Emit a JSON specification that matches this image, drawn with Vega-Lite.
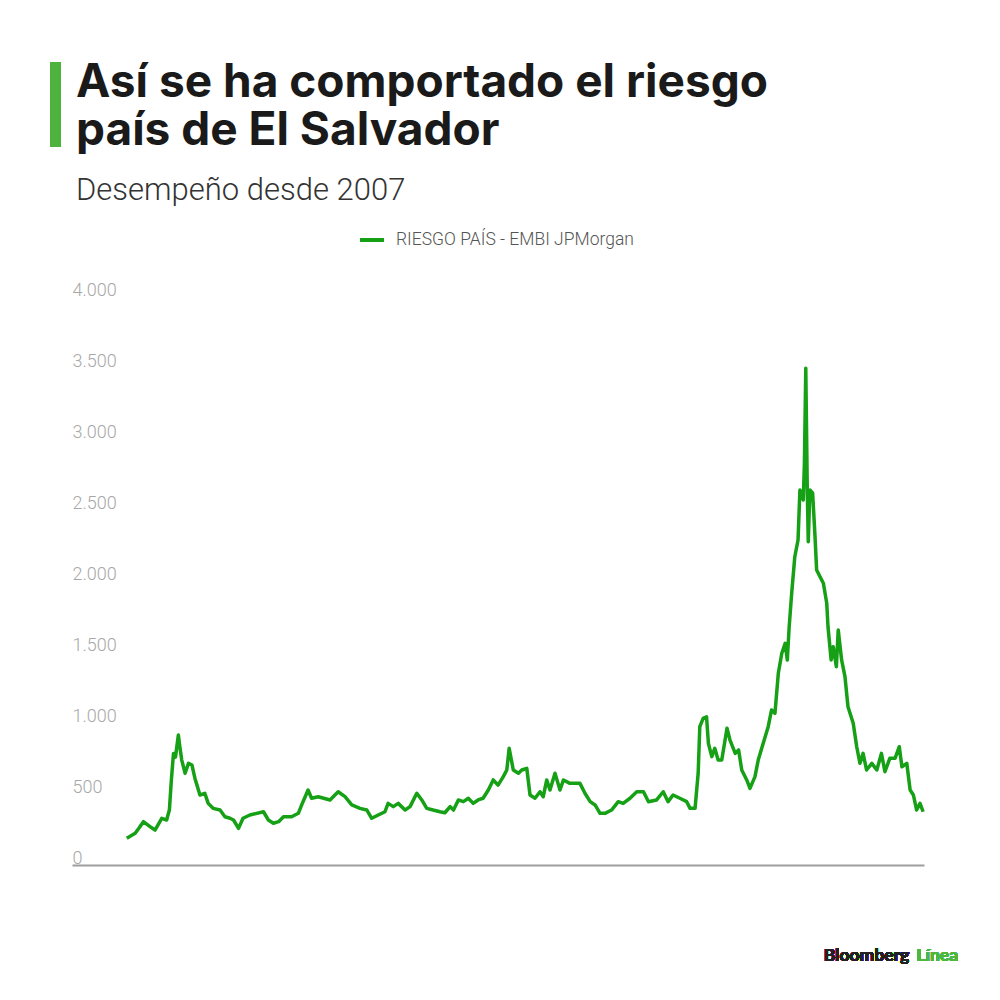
{
  "$schema": "https://vega.github.io/schema/vega-lite/v6.json",
  "autosize": {"type": "none"},
  "width": 852,
  "height": 568,
  "padding": {"left": 72, "top": 297, "right": 76, "bottom": 135},
  "background": "white",
  "config": {
    "view": {"stroke": null},
    "locale": {"number": {"decimal": ",", "thousands": ".", "grouping": [3], "currency": ["", "$"]}}
  },
  "title": {
    "text": ["Así se ha comportado el riesgo", "país de El Salvador"],
    "subtitle": "Desempeño desde 2007",
    "anchor": "start",
    "frame": "group",
    "dx": 4,
    "font": "Inter",
    "fontSize": 46,
    "fontWeight": 700,
    "lineHeight": 48,
    "color": "#1a1a1a",
    "subtitleFont": "Roboto",
    "subtitleFontSize": 31,
    "subtitleFontWeight": 300,
    "subtitleColor": "#333333",
    "subtitlePadding": 21,
    "offset": -150
  },
  "data": {
    "values": [
      {"fecha": "2007-09-03", "embi": 188},
      {"fecha": "2007-11-09", "embi": 223},
      {"fecha": "2007-12-10", "embi": 260},
      {"fecha": "2008-01-14", "embi": 305},
      {"fecha": "2008-03-07", "embi": 270},
      {"fecha": "2008-04-16", "embi": 246},
      {"fecha": "2008-06-09", "embi": 329},
      {"fecha": "2008-07-18", "embi": 317},
      {"fecha": "2008-08-09", "embi": 387},
      {"fecha": "2008-08-25", "embi": 600},
      {"fecha": "2008-09-11", "embi": 786},
      {"fecha": "2008-09-27", "embi": 760},
      {"fecha": "2008-10-20", "embi": 915},
      {"fecha": "2008-10-29", "embi": 850},
      {"fecha": "2008-11-16", "embi": 739},
      {"fecha": "2008-12-13", "embi": 646},
      {"fecha": "2009-01-09", "embi": 716},
      {"fecha": "2009-02-06", "embi": 704},
      {"fecha": "2009-03-02", "embi": 610},
      {"fecha": "2009-04-11", "embi": 493},
      {"fecha": "2009-05-20", "embi": 505},
      {"fecha": "2009-06-16", "embi": 434},
      {"fecha": "2009-07-25", "embi": 399},
      {"fecha": "2009-09-19", "embi": 387},
      {"fecha": "2009-10-28", "embi": 340},
      {"fecha": "2009-12-08", "embi": 329},
      {"fecha": "2010-01-05", "embi": 317},
      {"fecha": "2010-02-14", "embi": 258},
      {"fecha": "2010-03-22", "embi": 329},
      {"fecha": "2010-05-16", "embi": 352},
      {"fecha": "2010-09-02", "embi": 375},
      {"fecha": "2010-10-11", "embi": 317},
      {"fecha": "2010-11-20", "embi": 294},
      {"fecha": "2011-01-01", "embi": 305},
      {"fecha": "2011-02-09", "embi": 340},
      {"fecha": "2011-04-15", "embi": 340},
      {"fecha": "2011-06-08", "embi": 364},
      {"fecha": "2011-07-05", "embi": 423},
      {"fecha": "2011-08-25", "embi": 528},
      {"fecha": "2011-09-22", "embi": 470},
      {"fecha": "2011-11-15", "embi": 481},
      {"fecha": "2012-02-17", "embi": 458},
      {"fecha": "2012-04-22", "embi": 516},
      {"fecha": "2012-06-16", "embi": 481},
      {"fecha": "2012-08-09", "embi": 423},
      {"fecha": "2012-10-14", "embi": 399},
      {"fecha": "2012-12-08", "embi": 387},
      {"fecha": "2013-01-16", "embi": 329},
      {"fecha": "2013-03-09", "embi": 352},
      {"fecha": "2013-05-02", "embi": 375},
      {"fecha": "2013-05-27", "embi": 434},
      {"fecha": "2013-07-08", "embi": 411},
      {"fecha": "2013-08-16", "embi": 434},
      {"fecha": "2013-10-10", "embi": 387},
      {"fecha": "2013-11-19", "embi": 411},
      {"fecha": "2014-01-12", "embi": 505},
      {"fecha": "2014-02-21", "embi": 458},
      {"fecha": "2014-04-02", "embi": 399},
      {"fecha": "2014-05-22", "embi": 387},
      {"fecha": "2014-07-16", "embi": 375},
      {"fecha": "2014-08-25", "embi": 368},
      {"fecha": "2014-10-06", "embi": 411},
      {"fecha": "2014-11-02", "embi": 387},
      {"fecha": "2014-12-11", "embi": 458},
      {"fecha": "2015-01-20", "embi": 446},
      {"fecha": "2015-03-01", "embi": 470},
      {"fecha": "2015-04-09", "embi": 434},
      {"fecha": "2015-05-18", "embi": 458},
      {"fecha": "2015-06-27", "embi": 470},
      {"fecha": "2015-08-08", "embi": 528},
      {"fecha": "2015-09-16", "embi": 599},
      {"fecha": "2015-10-25", "embi": 563},
      {"fecha": "2015-12-06", "embi": 622},
      {"fecha": "2016-01-03", "embi": 669},
      {"fecha": "2016-01-22", "embi": 822},
      {"fecha": "2016-02-24", "embi": 669},
      {"fecha": "2016-04-05", "embi": 646},
      {"fecha": "2016-05-02", "embi": 669},
      {"fecha": "2016-06-11", "embi": 681},
      {"fecha": "2016-07-07", "embi": 493},
      {"fecha": "2016-08-16", "embi": 470},
      {"fecha": "2016-09-25", "embi": 516},
      {"fecha": "2016-10-21", "embi": 481},
      {"fecha": "2016-11-18", "embi": 599},
      {"fecha": "2016-12-14", "embi": 528},
      {"fecha": "2017-01-23", "embi": 646},
      {"fecha": "2017-03-04", "embi": 528},
      {"fecha": "2017-04-01", "embi": 599},
      {"fecha": "2017-05-22", "embi": 575},
      {"fecha": "2017-08-11", "embi": 575},
      {"fecha": "2017-09-20", "embi": 505},
      {"fecha": "2017-11-01", "embi": 446},
      {"fecha": "2017-12-10", "embi": 423},
      {"fecha": "2018-01-19", "embi": 364},
      {"fecha": "2018-02-28", "embi": 364},
      {"fecha": "2018-04-21", "embi": 387},
      {"fecha": "2018-06-14", "embi": 446},
      {"fecha": "2018-07-23", "embi": 434},
      {"fecha": "2018-09-16", "embi": 470},
      {"fecha": "2018-11-09", "embi": 516},
      {"fecha": "2019-01-02", "embi": 516},
      {"fecha": "2019-02-11", "embi": 446},
      {"fecha": "2019-04-17", "embi": 458},
      {"fecha": "2019-06-09", "embi": 516},
      {"fecha": "2019-07-18", "embi": 446},
      {"fecha": "2019-08-27", "embi": 493},
      {"fecha": "2019-10-20", "embi": 470},
      {"fecha": "2019-12-14", "embi": 446},
      {"fecha": "2020-01-10", "embi": 399},
      {"fecha": "2020-02-19", "embi": 399},
      {"fecha": "2020-03-15", "embi": 646},
      {"fecha": "2020-03-28", "embi": 974},
      {"fecha": "2020-04-24", "embi": 1033},
      {"fecha": "2020-05-21", "embi": 1044},
      {"fecha": "2020-06-05", "embi": 857},
      {"fecha": "2020-07-02", "embi": 763},
      {"fecha": "2020-07-26", "embi": 822},
      {"fecha": "2020-08-22", "embi": 739},
      {"fecha": "2020-09-20", "embi": 739},
      {"fecha": "2020-11-01", "embi": 963},
      {"fecha": "2020-11-25", "embi": 880},
      {"fecha": "2021-01-06", "embi": 786},
      {"fecha": "2021-02-02", "embi": 810},
      {"fecha": "2021-02-27", "embi": 669},
      {"fecha": "2021-04-08", "embi": 599},
      {"fecha": "2021-05-04", "embi": 540},
      {"fecha": "2021-06-13", "embi": 622},
      {"fecha": "2021-07-09", "embi": 739},
      {"fecha": "2021-08-18", "embi": 857},
      {"fecha": "2021-09-27", "embi": 974},
      {"fecha": "2021-10-24", "embi": 1092},
      {"fecha": "2021-11-20", "embi": 1068},
      {"fecha": "2021-12-17", "embi": 1350},
      {"fecha": "2022-01-14", "embi": 1491},
      {"fecha": "2022-02-10", "embi": 1561},
      {"fecha": "2022-02-27", "embi": 1444},
      {"fecha": "2022-03-14", "embi": 1678},
      {"fecha": "2022-04-03", "embi": 1913},
      {"fecha": "2022-04-28", "embi": 2171},
      {"fecha": "2022-05-24", "embi": 2289},
      {"fecha": "2022-06-08", "embi": 2641},
      {"fecha": "2022-07-05", "embi": 2570},
      {"fecha": "2022-07-14", "embi": 2829},
      {"fecha": "2022-07-25", "embi": 3498},
      {"fecha": "2022-08-06", "embi": 2641},
      {"fecha": "2022-08-14", "embi": 2277},
      {"fecha": "2022-08-27", "embi": 2641},
      {"fecha": "2022-09-18", "embi": 2618},
      {"fecha": "2022-10-07", "embi": 2312},
      {"fecha": "2022-10-20", "embi": 2077},
      {"fecha": "2022-11-16", "embi": 2030},
      {"fecha": "2022-12-13", "embi": 1984},
      {"fecha": "2023-01-09", "embi": 1843},
      {"fecha": "2023-01-19", "embi": 1678},
      {"fecha": "2023-02-13", "embi": 1444},
      {"fecha": "2023-03-02", "embi": 1537},
      {"fecha": "2023-03-27", "embi": 1396},
      {"fecha": "2023-04-11", "embi": 1655},
      {"fecha": "2023-05-08", "embi": 1444},
      {"fecha": "2023-06-04", "embi": 1326},
      {"fecha": "2023-06-28", "embi": 1115},
      {"fecha": "2023-08-09", "embi": 998},
      {"fecha": "2023-09-06", "embi": 833},
      {"fecha": "2023-10-02", "embi": 716},
      {"fecha": "2023-10-27", "embi": 786},
      {"fecha": "2023-11-24", "embi": 669},
      {"fecha": "2024-01-05", "embi": 716},
      {"fecha": "2024-02-14", "embi": 669},
      {"fecha": "2024-03-22", "embi": 786},
      {"fecha": "2024-04-19", "embi": 657},
      {"fecha": "2024-05-28", "embi": 751},
      {"fecha": "2024-07-09", "embi": 751},
      {"fecha": "2024-08-12", "embi": 833},
      {"fecha": "2024-09-02", "embi": 692},
      {"fecha": "2024-10-11", "embi": 716},
      {"fecha": "2024-11-07", "embi": 528},
      {"fecha": "2024-12-03", "embi": 493},
      {"fecha": "2024-12-29", "embi": 387},
      {"fecha": "2025-01-25", "embi": 434},
      {"fecha": "2025-02-19", "embi": 375}
    ]
  },
  "layer": [
    {
      "mark": {"type": "line", "strokeWidth": 3.5, "strokeJoin": "round", "clip": false},
      "encoding": {
        "x": {
          "field": "fecha", "type": "temporal",
          "scale": {"domain": ["2006-06-21", "2025-02-26"]},
          "axis": {"orient": "bottom", "labels": false, "ticks": false, "grid": false, "domain": true, "domainColor": "#9e9e9e", "domainWidth": 2, "title": null}
        },
        "y": {
          "field": "embi", "type": "quantitative",
          "scale": {"domain": [0, 4000], "nice": false},
          "axis": {
            "orient": "left", "domain": false, "ticks": false, "grid": false,
            "values": [0, 500, 1000, 1500, 2000, 2500, 3000, 3500, 4000],
            "format": ",d", "labelAlign": "left", "labelPadding": 0,
            "labelBaseline": "alphabetic", "labelOffset": -2,
            "labelColor": "#a8a8a8", "labelFont": "Roboto", "labelFontSize": 18, "labelFontWeight": 300,
            "title": null
          }
        },
        "color": {
          "datum": "RIESGO PAÍS - EMBI JPMorgan", "type": "nominal",
          "scale": {"range": ["#15a015"]},
          "legend": {
            "title": null, "orient": "none", "legendX": 286, "legendY": -71,
            "direction": "horizontal", "symbolType": "stroke", "symbolStrokeWidth": 4,
            "symbolSize": 576, "labelFont": "Roboto", "labelFontSize": 17.5, "labelFontWeight": 300,
            "labelColor": "#555555", "labelLimit": 400,
            "labelOffset": 10, "padding": 0
          }
        }
      }
    },
    {
      "mark": {"type": "rule", "strokeWidth": 10, "color": "#4db33d", "clip": false},
      "encoding": {
        "x": {"datum": {"year": 2006, "month": 2, "date": 7}, "type": "temporal"},
        "y": {"datum": 5655, "type": "quantitative"},
        "y2": {"datum": 5056}
      }
    },
    {
      "mark": {"type": "text", "align": "right", "baseline": "alphabetic", "font": "Lato", "fontSize": 17.5, "fontWeight": 700, "color": "#222222", "text": "Bloomberg", "clip": false},
      "encoding": {
        "x": {"datum": {"year": 2024, "month": 10, "date": 30}, "type": "temporal"},
        "y": {"datum": -676, "type": "quantitative"}
      }
    },
    {
      "mark": {"type": "text", "align": "right", "baseline": "alphabetic", "font": "Lato", "fontSize": 17.5, "fontWeight": 700, "color": "#4cb93c", "text": "Línea", "clip": false},
      "encoding": {
        "x": {"datum": {"year": 2025, "month": 11, "date": 26}, "type": "temporal"},
        "y": {"datum": -676, "type": "quantitative"}
      }
    }
  ]
}
